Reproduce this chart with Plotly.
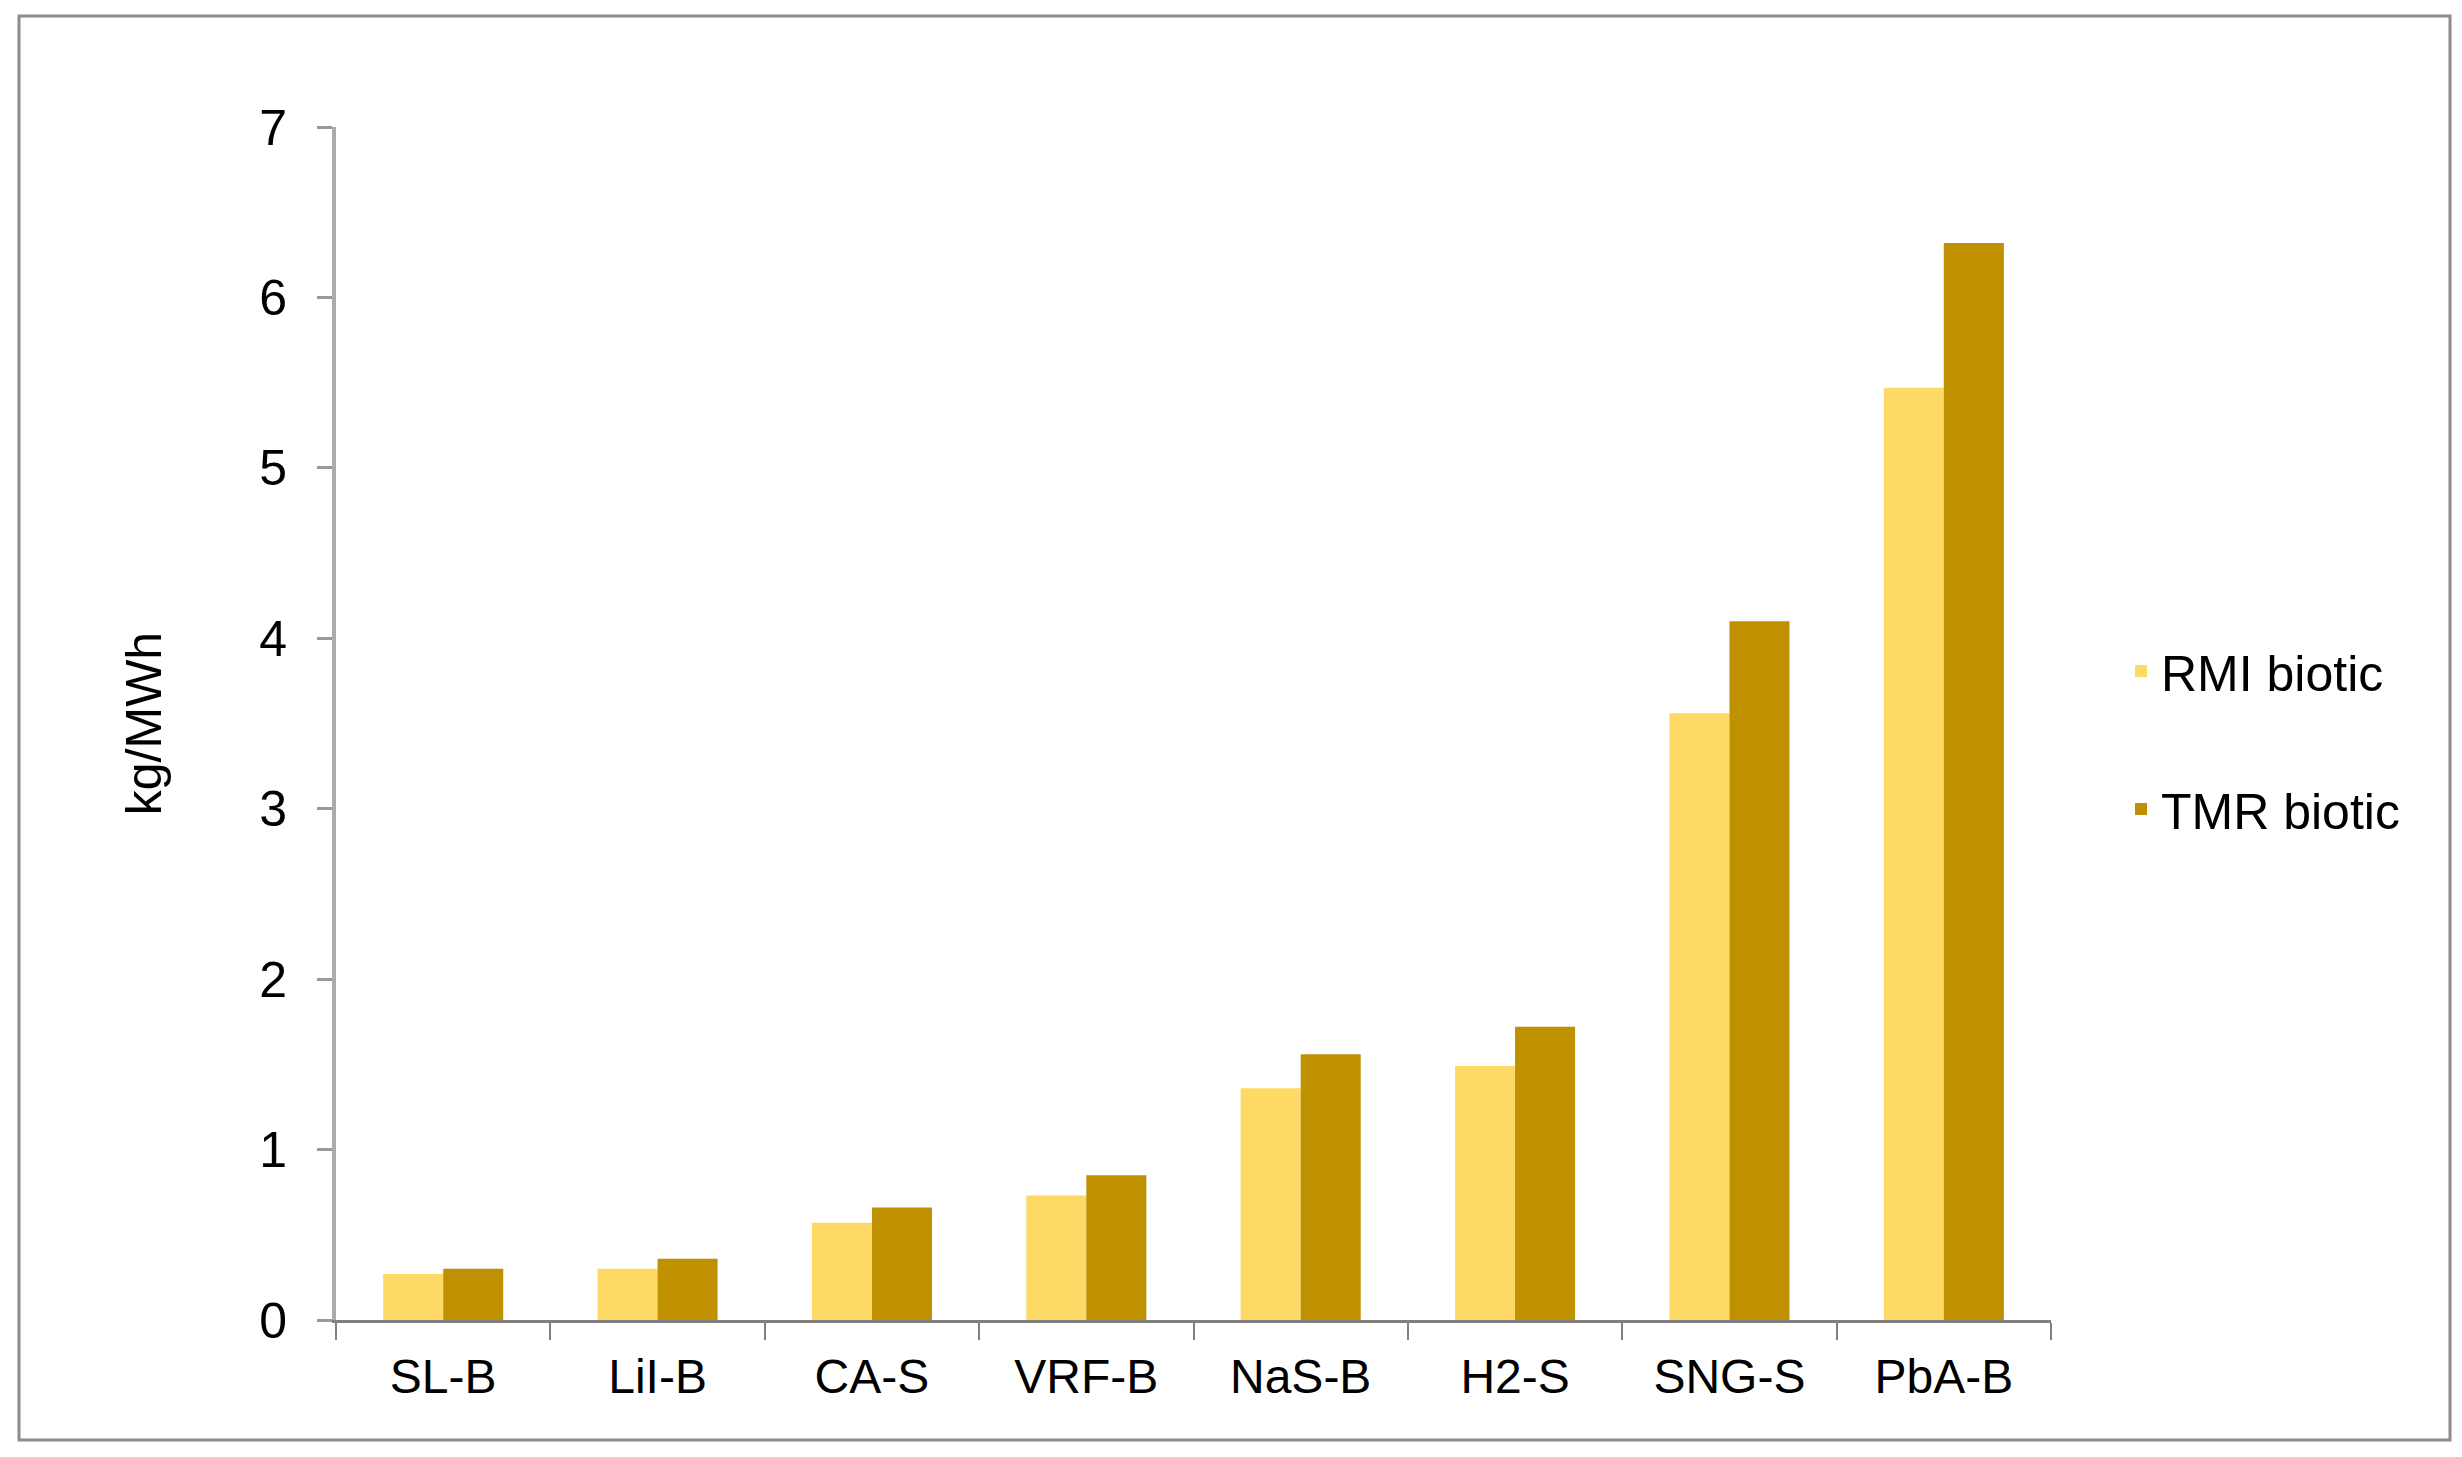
import plotly.graph_objects as go

categories = ["SL-B", "LiI-B", "CA-S", "VRF-B", "NaS-B", "H2-S", "SNG-S", "PbA-B"]
rmi_biotic = [0.27, 0.30, 0.57, 0.73, 1.36, 1.49, 3.56, 5.47]
tmr_biotic = [0.30, 0.36, 0.66, 0.85, 1.56, 1.72, 4.10, 6.32]
y_ticks = [0, 1, 2, 3, 4, 5, 6, 7]

FONT = "Liberation Sans, Arial, sans-serif"

fig = go.Figure()
fig.add_trace(go.Bar(name="RMI biotic", x=categories, y=rmi_biotic,
                     marker=dict(color="#FFD966", line=dict(width=0)),
                     legendgroup="a"))
fig.add_trace(go.Bar(name="TMR biotic", x=categories, y=tmr_biotic,
                     marker=dict(color="#BF9000", line=dict(width=0)),
                     legendgroup="b"))

W, H = 2462, 1457
OFF = 8  # page body margin
# target plot area in page pixels
L, R, T, B = 336, 2051, 127, 1320
ml = L - OFF
mt = T - OFF
mr = W - (R - OFF)
mb = H - (B - OFF)
pw, ph = R - L, B - T


def px_x(p):
    return (p - L) / pw


def px_y(p):
    return (B - p) / ph


fig.update_layout(
    width=W, height=H,
    margin=dict(l=ml, r=mr, t=mt, b=mb, autoexpand=False),
    paper_bgcolor="white", plot_bgcolor="white",
    font=dict(family=FONT, size=50, color="#000000"),
    barmode="group", bargap=0.44, bargroupgap=0,
    showlegend=True,
    legend=dict(x=px_x(2121), xanchor="left", y=px_y(740), yanchor="middle",
                font=dict(size=50, color="#000000"),
                traceorder="grouped", tracegroupgap=70,
                bgcolor="rgba(0,0,0,0)"),
    xaxis=dict(type="category", showgrid=False, zeroline=False,
               showline=True, linecolor="#808080", linewidth=3,
               ticks="outside", tickson="boundaries", ticklen=17,
               tickwidth=2, tickcolor="#808080",
               tickfont=dict(size=48, color="#000000"),
               ticklabelstandoff=12),
    yaxis=dict(range=[0, 7], tickvals=y_ticks, showgrid=False, zeroline=False,
               showline=True, linecolor="#ababab", linewidth=4,
               ticks="outside", ticklen=15, tickwidth=3, tickcolor="#999999",
               tickfont=dict(size=50, color="#000000"),
               ticklabelstandoff=20,
               title=dict(text="kg/MWh", font=dict(size=50, color="#000000"),
                          standoff=83)),
    shapes=[dict(type="rect", xref="paper", yref="paper",
                 x0=px_x(19), x1=px_x(2450), y0=px_y(1440), y1=px_y(16),
                 line=dict(color="#8c8c8c", width=3), layer="below")],
)

fig.write_html("out.html")
